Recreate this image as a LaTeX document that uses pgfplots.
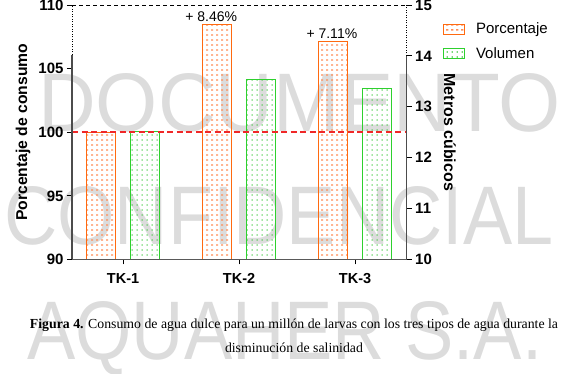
\documentclass[border=0pt]{standalone}
\usepackage{graphicx}
\usepackage{pgfplots}
\pgfplotsset{compat=1.18}
\usepackage{fontspec}
\setmainfont{Liberation Serif}
\setsansfont{Liberation Sans}
\usetikzlibrary{patterns}

\definecolor{orng}{HTML}{FF6A10}
\definecolor{orngdot}{HTML}{FF8E58}
\definecolor{grn}{HTML}{2ED02E}
\definecolor{grndot}{HTML}{2EC42E}
\definecolor{redl}{HTML}{F02828}
\definecolor{wmgray}{HTML}{DCDCDC}

\pgfdeclarepatternformonly{odots}{\pgfpointorigin}{\pgfpoint{5pt}{4.5pt}}{\pgfpoint{5pt}{4.5pt}}%
  {\pgfpathrectangle{\pgfpoint{1.2pt}{1.5pt}}{\pgfpoint{2.6pt}{1.5pt}}\pgfusepath{fill}}
\pgfdeclarepatternformonly{gdots}{\pgfpointorigin}{\pgfpoint{5pt}{4.5pt}}{\pgfpoint{5pt}{4.5pt}}%
  {\pgfpathrectangle{\pgfpoint{1.8pt}{1.6pt}}{\pgfpoint{1.4pt}{1.3pt}}\pgfusepath{fill}}

\pgfplotsset{boxlegend/.style={legend image code/.code={\draw[##1] (0pt,-5pt) rectangle (21pt,5pt);}}}

\newcommand\wmline[5]{%
  \node[anchor=base west,inner sep=0pt,text=wmgray] at (#1,#2) {\resizebox{#3pt}{#4pt}{\sffamily #5}};}

\begin{document}
\begin{tikzpicture}[x=1pt,y=1pt]
\path[use as bounding box] (0,0) rectangle (566,374);
% watermark
\wmline{38}{242}{522}{58}{DOCUMENTO}
\wmline{4}{129}{549}{58}{CONFIDENCIAL}
\wmline{27}{14}{515}{58}{AQUAHER S.A.}

\begin{axis}[
  at={(72pt,114.5pt)}, anchor=south west,
  scale only axis, width=334.7pt, height=254.5pt,
  xmin=-0.44, xmax=2.445, ymin=90, ymax=110,
  xtick={0,1,2}, xticklabels={TK-1,TK-2,TK-3},
  ytick={90,95,100,105,110},
  axis x line*=bottom, axis y line*=left,
  axis line style={draw=none},
  tick align=outside, major tick length=5pt,
  tick style={black, line width=0.9pt},
  /pgf/number format/assume math mode=true,
  yticklabel style={font=\sffamily\bfseries\fontsize{15}{17}\selectfont},
  xticklabel style={font=\sffamily\bfseries\fontsize{14.5}{17}\selectfont, yshift=-5pt},
  ylabel={Porcentaje de consumo},
  every axis y label/.style={at={(axis description cs:-0.146,0.5)}, rotate=90, anchor=center,
     font=\sffamily\bfseries\fontsize{15.7}{18}\selectfont},
]
\addplot[ybar, bar width=0.247, bar shift=-0.19, draw=orng, line width=1pt,
  pattern=odots, pattern color=orngdot] coordinates {(0,100) (1,108.46) (2,107.11)};
\node[anchor=base, yshift=3pt, font=\sffamily\fontsize{14}{16}\selectfont] at (axis cs:0.76,108.46) {+ 8.46\%};
\node[anchor=base, yshift=3.3pt, font=\sffamily\fontsize{14}{16}\selectfont] at (axis cs:1.8,107.11) {+ 7.11\%};
\end{axis}

\begin{axis}[
  at={(72pt,114.5pt)}, anchor=south west,
  scale only axis, width=334.7pt, height=254.5pt,
  xmin=-0.44, xmax=2.445, ymin=10, ymax=15,
  ytick={10,11,12,13,14,15},
  axis x line=none, axis y line*=right,
  axis line style={draw=none},
  tick align=outside, major tick length=5pt,
  tick style={black, line width=0.9pt},
  /pgf/number format/assume math mode=true,
  yticklabel style={font=\sffamily\bfseries\fontsize{15}{17}\selectfont},
  ylabel={Metros cúbicos},
  every axis y label/.style={at={(axis description cs:1.129,0.5)}, rotate=-90, anchor=center,
     font=\sffamily\bfseries\fontsize{16}{18}\selectfont},
  legend style={at={(axis description cs:1.108,0.938)}, anchor=north west, draw=none, fill=none,
     inner sep=0pt, row sep=8pt, font=\sffamily\fontsize{15}{17}\selectfont,
     /tikz/every odd column/.append style={column sep=9pt}},
  legend cell align=left,
]
\addlegendimage{area legend, draw=orng, line width=1pt, pattern=odots, pattern color=orngdot, boxlegend}
\addlegendentry{Porcentaje}
\addplot[ybar, bar width=0.247, bar shift=0.19, draw=grn, line width=1pt,
  pattern=gdots, pattern color=grndot, boxlegend]
  coordinates {(0,12.51) (1,13.54) (2,13.35)};
\addlegendentry{Volumen}
\end{axis}

\begin{axis}[
  at={(72pt,114.5pt)}, anchor=south west,
  scale only axis, width=334.7pt, height=254.5pt,
  xmin=-0.44, xmax=2.445, ymin=90, ymax=110,
  hide axis,
]
\addplot[redl, line width=1.8pt, dash pattern=on 6pt off 3.5pt] coordinates {(-0.44,100) (2.445,100)};
\end{axis}

% frame lines
\draw[black!65, line width=1.1pt] (72,114.5) -- (406.7,114.5);
\draw[black!70, line width=1.1pt] (72,114.5) -- (72,319);
\draw[black, line width=0.9pt, dash pattern=on 1pt off 1.5pt] (72,319) -- (72,369);
\draw[black!70, line width=1.1pt] (406.7,114.5) -- (406.7,318.1);
\draw[black, line width=0.9pt, dash pattern=on 1pt off 1.5pt] (406.7,318.1) -- (406.7,369);
\draw[black, line width=0.9pt, dash pattern=on 4pt off 3pt] (72,369) -- (406.7,369);

% caption
\node[align=center, font=\fontsize{13.8}{23.5}\selectfont] at (294,38)
  {\textbf{Figura 4.} Consumo de agua dulce para un millón de larvas con los tres tipos de agua durante la\\ disminución de salinidad};
\end{tikzpicture}
\end{document}
